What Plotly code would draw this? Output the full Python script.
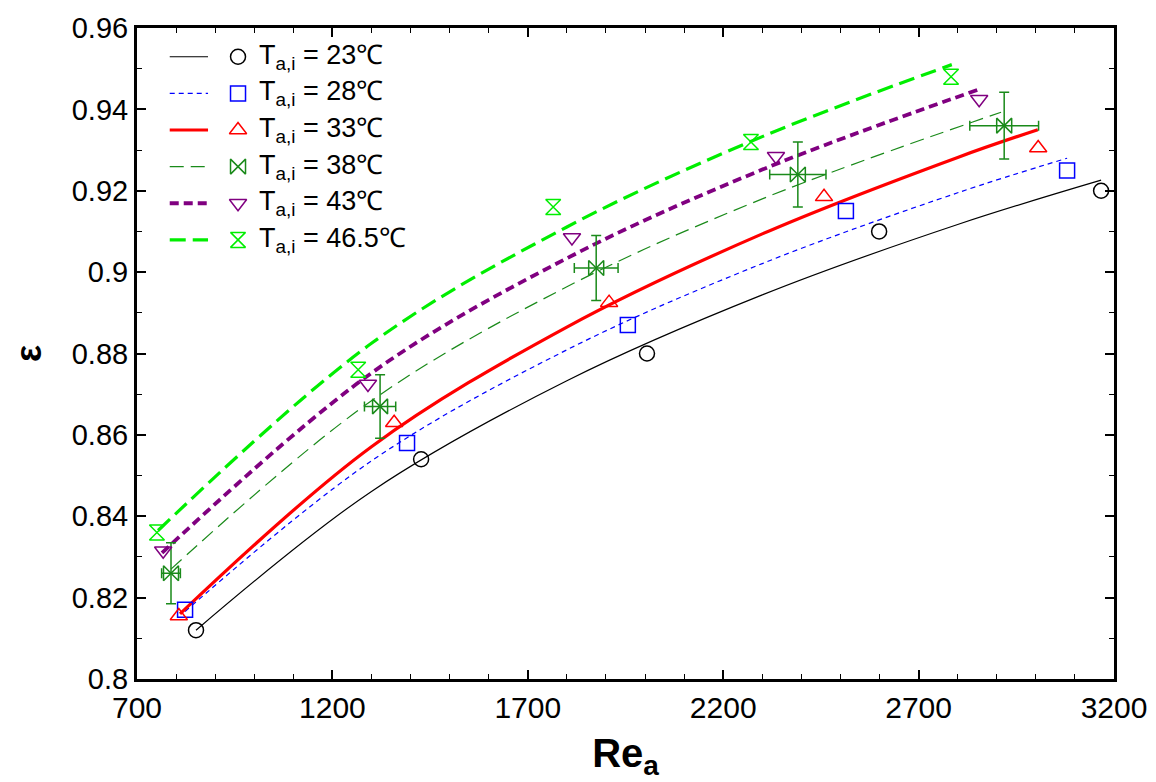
import plotly.graph_objects as go

# ---------------- data ----------------
labels = ["23℃", "28℃", "33℃", "38℃", "43℃", "46.5℃"]

# measured points
re_23 = [851, 1427, 2005, 2599, 3167]
eps_23 = [0.812, 0.854, 0.880, 0.910, 0.920]
re_28 = [823, 1391, 1956, 2514, 3080]
eps_28 = [0.817, 0.858, 0.887, 0.915, 0.925]
re_33 = [807, 1358, 1908, 2458, 3006]
eps_33 = [0.8155, 0.8630, 0.8925, 0.9185, 0.9305]
re_38 = [787, 1322, 1875, 2391, 2919]
eps_38 = [0.826, 0.867, 0.901, 0.924, 0.936]
re_43 = [767, 1291, 1813, 2335, 2855]
eps_43 = [0.8315, 0.8725, 0.9085, 0.9285, 0.9425]
re_465 = [751, 1266, 1765, 2271, 2783]
eps_465 = [0.836, 0.876, 0.916, 0.932, 0.948]

# error bars on the 38℃ series
err_re_38 = [24, 40, 56, 72, 88]
err_eps_38 = [0.0075, 0.0078, 0.0080, 0.0080, 0.0082]

# fitted curves
fit_re_23 = [851, 1300, 1800, 2300, 2800, 3167]
fit_eps_23 = [0.812, 0.8461, 0.8733, 0.8944, 0.9117, 0.9226]
fit_re_28 = [823, 1300, 1800, 2300, 2800, 3080]
fit_eps_28 = [0.8166, 0.8536, 0.8809, 0.9021, 0.9195, 0.928]
fit_re_33 = [810, 1300, 1800, 2300, 2800, 3005]
fit_eps_33 = [0.816, 0.8571, 0.8865, 0.9094, 0.9282, 0.935]
fit_re_38 = [787, 1300, 1800, 2300, 2911]
fit_eps_38 = [0.827, 0.8684, 0.8964, 0.918, 0.9393]
fit_re_43 = [764, 1300, 1800, 2300, 2857]
fit_eps_43 = [0.831, 0.8752, 0.9034, 0.9252, 0.945]
fit_re_465 = [754, 1300, 1800, 2300, 2785]
fit_eps_465 = [0.8365, 0.8825, 0.9111, 0.9333, 0.951]

x_ticks = [700, 1200, 1700, 2200, 2700, 3200]
y_ticks = [0.8, 0.82, 0.84, 0.86, 0.88, 0.9, 0.92, 0.94, 0.96]

# ---------------- styles ----------------
series = [
    dict(re=re_23, eps=eps_23, fre=fit_re_23, feps=fit_eps_23, color="black",
         width=1.2, dash="solid", symbol="circle-open"),
    dict(re=re_28, eps=eps_28, fre=fit_re_28, feps=fit_eps_28, color="#0000ff",
         width=1.2, dash="5px,4px", symbol="square-open"),
    dict(re=re_33, eps=eps_33, fre=fit_re_33, feps=fit_eps_33, color="#ff0000",
         width=3.2, dash="solid", symbol="triangle-up-open"),
    dict(re=re_38, eps=eps_38, fre=fit_re_38, feps=fit_eps_38, color="#1a8a1a",
         width=1.2, dash="14px,7px", symbol="bowtie-open"),
    dict(re=re_43, eps=eps_43, fre=fit_re_43, feps=fit_eps_43, color="#800080",
         width=3.8, dash="9px,5px", symbol="triangle-down-open"),
    dict(re=re_465, eps=eps_465, fre=fit_re_465, feps=fit_eps_465, color="#00ee00",
         width=3.2, dash="16px,7px", symbol="hourglass-open"),
]

fig = go.Figure()

for i, s in enumerate(series):
    fig.add_trace(go.Scatter(
        x=s["fre"], y=s["feps"], mode="lines", line_shape="spline",
        line=dict(color=s["color"], width=s["width"], dash=s["dash"]),
        showlegend=False, hoverinfo="skip"))

for i, s in enumerate(series):
    kw = {}
    if i == 3:
        kw["error_x"] = dict(type="data", array=err_re_38, color=s["color"],
                             thickness=1.5, width=5)
        kw["error_y"] = dict(type="data", array=err_eps_38, color=s["color"],
                             thickness=1.5, width=5)
    fig.add_trace(go.Scatter(
        x=s["re"], y=s["eps"], mode="markers",
        marker=dict(symbol=s["symbol"], size=15, color=s["color"],
                    line=dict(width=1.5, color=s["color"])),
        showlegend=False, **kw))

# ---------------- custom legend (line sample, marker, text) ----------------
row_y = [0.9558, 0.8995, 0.8433, 0.7871, 0.7308, 0.6745]
leg_x0, leg_x1, leg_xm, leg_xt = 0.0335, 0.0727, 0.1034, 0.1228
for i, s in enumerate(series):
    fig.add_shape(type="line", xref="paper", yref="paper",
                  x0=leg_x0, x1=leg_x1, y0=row_y[i], y1=row_y[i],
                  line=dict(color=s["color"], width=s["width"], dash=s["dash"]))
    fig.add_trace(go.Scatter(
        x=[leg_xm], y=[row_y[i]], xaxis="x2", yaxis="y2", mode="markers",
        marker=dict(symbol=s["symbol"], size=15, color=s["color"],
                    line=dict(width=1.5, color=s["color"])),
        showlegend=False, hoverinfo="skip"))
    fig.add_annotation(xref="paper", yref="paper", x=leg_xt, y=row_y[i],
                       xanchor="left", yanchor="middle", showarrow=False,
                       text="T<sub>a,i</sub> = " + labels[i],
                       font=dict(size=27, color="black",
                                 family="Liberation Sans, Arial, sans-serif"))

axis_common = dict(
    showline=True, linewidth=3, linecolor="black", mirror="allticks",
    ticks="inside", ticklen=9, tickwidth=1.5, tickcolor="black",
    showgrid=False, zeroline=False, automargin=False,
)

fig.update_layout(
    width=1156, height=782,
    margin=dict(l=129, r=50, t=20, b=111),
    paper_bgcolor="white", plot_bgcolor="white",
    font=dict(family="Liberation Sans, Arial, sans-serif", color="black"),
    xaxis=dict(range=[700, 3200], tickvals=x_ticks,
               ticktext=[str(v) for v in x_ticks],
               tickfont=dict(size=30),
               minor=dict(dtick=100, tick0=700, ticks="inside", ticklen=5,
                          tickwidth=1.2, tickcolor="black"),
               title=dict(text="<b>Re<sub>a</sub></b>", standoff=16,
                          font=dict(size=40)),
               **axis_common),
    yaxis=dict(range=[0.8, 0.96], tickvals=y_ticks,
               ticktext=[f"{v:g}" for v in y_ticks],
               tickfont=dict(size=29),
               minor=dict(dtick=0.01, tick0=0.8, ticks="inside", ticklen=5,
                          tickwidth=1.2, tickcolor="black"),
               title=dict(text="<b>ε</b>", standoff=24, font=dict(size=36)),
               **axis_common),
    xaxis2=dict(overlaying="x", range=[0, 1], visible=False),
    yaxis2=dict(overlaying="y", range=[0, 1], visible=False),
)

fig.write_html("out.html")
